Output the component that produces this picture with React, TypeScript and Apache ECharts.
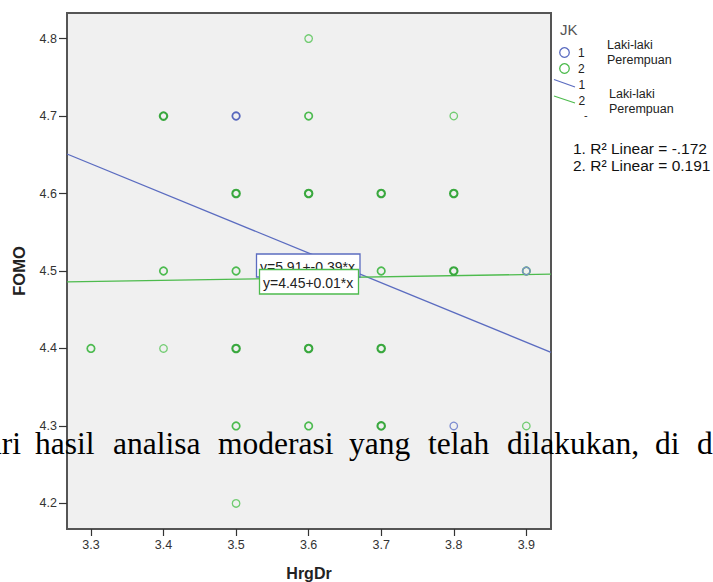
import React, { useEffect, useRef } from "react";
import * as echarts from "echarts";

// Axis ticks and ranges
const xTicks = [3.3, 3.4, 3.5, 3.6, 3.7, 3.8, 3.9];
const yTicks = [4.2, 4.3, 4.4, 4.5, 4.6, 4.7, 4.8];
const xRange = [3.267, 3.934];
const yRange = [4.167, 4.833];

// [HrgDr, FOMO, overlapping cases] — JK = 2 (Perempuan)
const perempuanPoints: [number, number, number][] = [
  [3.3, 4.4, 2], [3.4, 4.7, 3], [3.4, 4.5, 2], [3.4, 4.4, 1],
  [3.5, 4.6, 3], [3.5, 4.5, 2], [3.5, 4.4, 3], [3.5, 4.3, 2], [3.5, 4.2, 1],
  [3.6, 4.8, 1], [3.6, 4.7, 2], [3.6, 4.6, 3], [3.6, 4.5, 2], [3.6, 4.4, 3], [3.6, 4.3, 2],
  [3.7, 4.6, 3], [3.7, 4.5, 2], [3.7, 4.4, 3], [3.7, 4.3, 3],
  [3.8, 4.7, 1], [3.8, 4.6, 3], [3.8, 4.5, 3],
  [3.9, 4.5, 2], [3.9, 4.3, 1],
];
// JK = 1 (Laki-laki)
const lakiPoints: [number, number, number][] = [
  [3.5, 4.7, 2], [3.8, 4.3, 1], [3.9, 4.5, 1],
];

// Fit lines (endpoints at the plot edges)
const lakiFitLine = [[3.267, 4.651], [3.934, 4.395]];
const perempuanFitLine = [[3.267, 4.486], [3.934, 4.496]];

const lakiEquation = "y=5.91+-0.39*x";
const perempuanEquation = "y=4.45+0.01*x";
const rSquaredLines = ["1. R\u00B2 Linear = -.172", "2. R\u00B2 Linear = 0.191"];
const groupCodes = ["1", "2"];
const groupNames = ["Laki-laki", "Perempuan"];
const legendTitle = "JK";

// Overlapping document text (words, left x)
const docWords: [string, number][] = [
  ["Dari", -35], ["hasil", 35], ["analisa", 113], ["moderasi", 218], ["yang", 349],
  ["telah", 428], ["dilakukan,", 507], ["di", 655], ["d", 697],
];

const BLUE = "#5b6cc0";
const GREEN = "#4dbb4d";
const SANS = '"Liberation Sans", Arial, sans-serif';

function pointStyle(n: number, male: boolean) {
  if (male) {
    return n >= 2
      ? { borderColor: "#5767bd", borderWidth: 1.8 }
      : { borderColor: "#7d8cd0", borderWidth: 1.3 };
  }
  if (n >= 3) return { borderColor: "#39a83e", borderWidth: 2.1 };
  if (n === 2) return { borderColor: "#4dbb50", borderWidth: 1.7 };
  return { borderColor: "#72cc72", borderWidth: 1.3 };
}

export default function App() {
  const ref = useRef<HTMLDivElement>(null);
  useEffect(() => {
    document.body.style.margin = "0";
    if (!ref.current) return;
    const chart = echarts.init(ref.current, undefined, { renderer: "svg" });

    const toData = (pts: [number, number, number][], male: boolean) =>
      pts.map((p) => ({
        value: [p[0], p[1]],
        itemStyle: { color: "rgba(0,0,0,0)", opacity: 1, ...pointStyle(p[2], male) },
      }));

    const graphics: any[] = [];
    // Equation label boxes
    graphics.push({
      type: "rect", z: 100, shape: { x: 256.5, y: 254, width: 103.5, height: 23 },
      style: { fill: "#fff", stroke: BLUE, lineWidth: 1.3 },
    });
    graphics.push({
      type: "text", z: 101, x: 260, y: 267,
      style: { text: lakiEquation, font: `14px ${SANS}`, fill: "#222", verticalAlign: "middle" },
    });
    graphics.push({
      type: "rect", z: 102, shape: { x: 259.5, y: 269.5, width: 99, height: 24.5 },
      style: { fill: "#fff", stroke: GREEN, lineWidth: 1.3 },
    });
    graphics.push({
      type: "text", z: 103, x: 263, y: 282.5,
      style: { text: perempuanEquation, font: `14px ${SANS}`, fill: "#222", verticalAlign: "middle" },
    });

    // Legend
    graphics.push({
      type: "text", z: 100, x: 560, y: 29,
      style: { text: legendTitle, font: `15px ${SANS}`, fill: "#555", verticalAlign: "middle" },
    });
    [BLUE, GREEN].forEach((c, i) => {
      graphics.push({
        type: "circle", z: 100, shape: { cx: 564.5, cy: 52.5 + i * 16, r: 4.8 },
        style: { fill: "none", stroke: c, lineWidth: 1.3 },
      });
      graphics.push({
        type: "text", z: 100, x: 578, y: 53 + i * 16,
        style: { text: groupCodes[i], font: `12px ${SANS}`, fill: "#222", verticalAlign: "middle" },
      });
      graphics.push({
        type: "line", z: 100, shape: { x1: 554, y1: 79.5 + i * 16.5, x2: 575, y2: 87 + i * 16 },
        style: { stroke: c, lineWidth: 1.3 },
      });
      graphics.push({
        type: "text", z: 100, x: 578.5, y: 85 + i * 15.5,
        style: { text: groupCodes[i], font: `12px ${SANS}`, fill: "#222", verticalAlign: "middle" },
      });
      graphics.push({
        type: "text", z: 100, x: 607, y: 44.5 + i * 15,
        style: { text: groupNames[i], font: `12.5px ${SANS}`, fill: "#222", verticalAlign: "middle" },
      });
      graphics.push({
        type: "text", z: 100, x: 609, y: 93.5 + i * 15,
        style: { text: groupNames[i], font: `12.5px ${SANS}`, fill: "#222", verticalAlign: "middle" },
      });
      graphics.push({
        type: "text", z: 100, x: 573, y: 148 + i * 17.5,
        style: { text: rSquaredLines[i], font: `15.5px ${SANS}`, fill: "#111", verticalAlign: "middle" },
      });
    });
    graphics.push({
      type: "text", z: 100, x: 584, y: 115,
      style: { text: "-", font: `11px ${SANS}`, fill: "#222", verticalAlign: "middle" },
    });

    // Overlapping document text
    docWords.forEach(([w, x]) => {
      graphics.push({
        type: "text", z: 200, x, y: 443.5,
        style: { text: w, font: `31.5px "Liberation Serif", "Times New Roman", serif`, fill: "#000", verticalAlign: "middle" },
      });
    });

    chart.setOption({
      animation: false,
      backgroundColor: "#fff",
      grid: {
        left: 67, top: 13, width: 484, height: 516,
        outerBoundsMode: "none", containLabel: false,
        show: true, backgroundColor: "#f0f0f0", borderColor: "#555", borderWidth: 2,
      },
      xAxis: {
        type: "value", min: xRange[0], max: xRange[1],
        name: "HrgDr", nameLocation: "middle", nameGap: 36,
        nameTextStyle: { fontFamily: SANS, fontWeight: "bold", fontSize: 16, color: "#222" },
        axisLine: { show: false },
        axisTick: { show: true, customValues: xTicks, length: 7, lineStyle: { color: "#333", width: 1.2 } },
        splitLine: { show: false },
        axisLabel: {
          customValues: xTicks, margin: 9, fontFamily: SANS, fontSize: 12.5, color: "#333",
          formatter: (v: number) => v.toFixed(1),
        },
      },
      yAxis: {
        type: "value", min: yRange[0], max: yRange[1],
        name: "FOMO", nameLocation: "middle", nameGap: 40, nameRotate: 90,
        nameTextStyle: { fontFamily: SANS, fontWeight: "bold", fontSize: 16.5, color: "#222" },
        axisLine: { show: false },
        axisTick: { show: true, customValues: yTicks, length: 8, lineStyle: { color: "#333", width: 1.2 } },
        splitLine: { show: false },
        axisLabel: {
          customValues: yTicks, margin: 10, fontFamily: SANS, fontSize: 12.5, color: "#333",
          formatter: (v: number) => v.toFixed(1),
        },
      },
      series: [
        {
          type: "line", data: lakiFitLine, showSymbol: false, z: 2,
          lineStyle: { color: BLUE, width: 1.3 }, silent: true,
        },
        {
          type: "line", data: perempuanFitLine, showSymbol: false, z: 2,
          lineStyle: { color: GREEN, width: 1.3 }, silent: true,
        },
        {
          type: "scatter", data: toData(perempuanPoints, false), symbol: "circle", symbolSize: 7.5, z: 3,
        },
        {
          type: "scatter", data: toData(lakiPoints, true), symbol: "circle", symbolSize: 7.5, z: 4,
        },
      ],
      graphic: graphics,
    });
    return () => chart.dispose();
  }, []);
  return <div ref={ref} style={{ width: 713, height: 582 }} />;
}
